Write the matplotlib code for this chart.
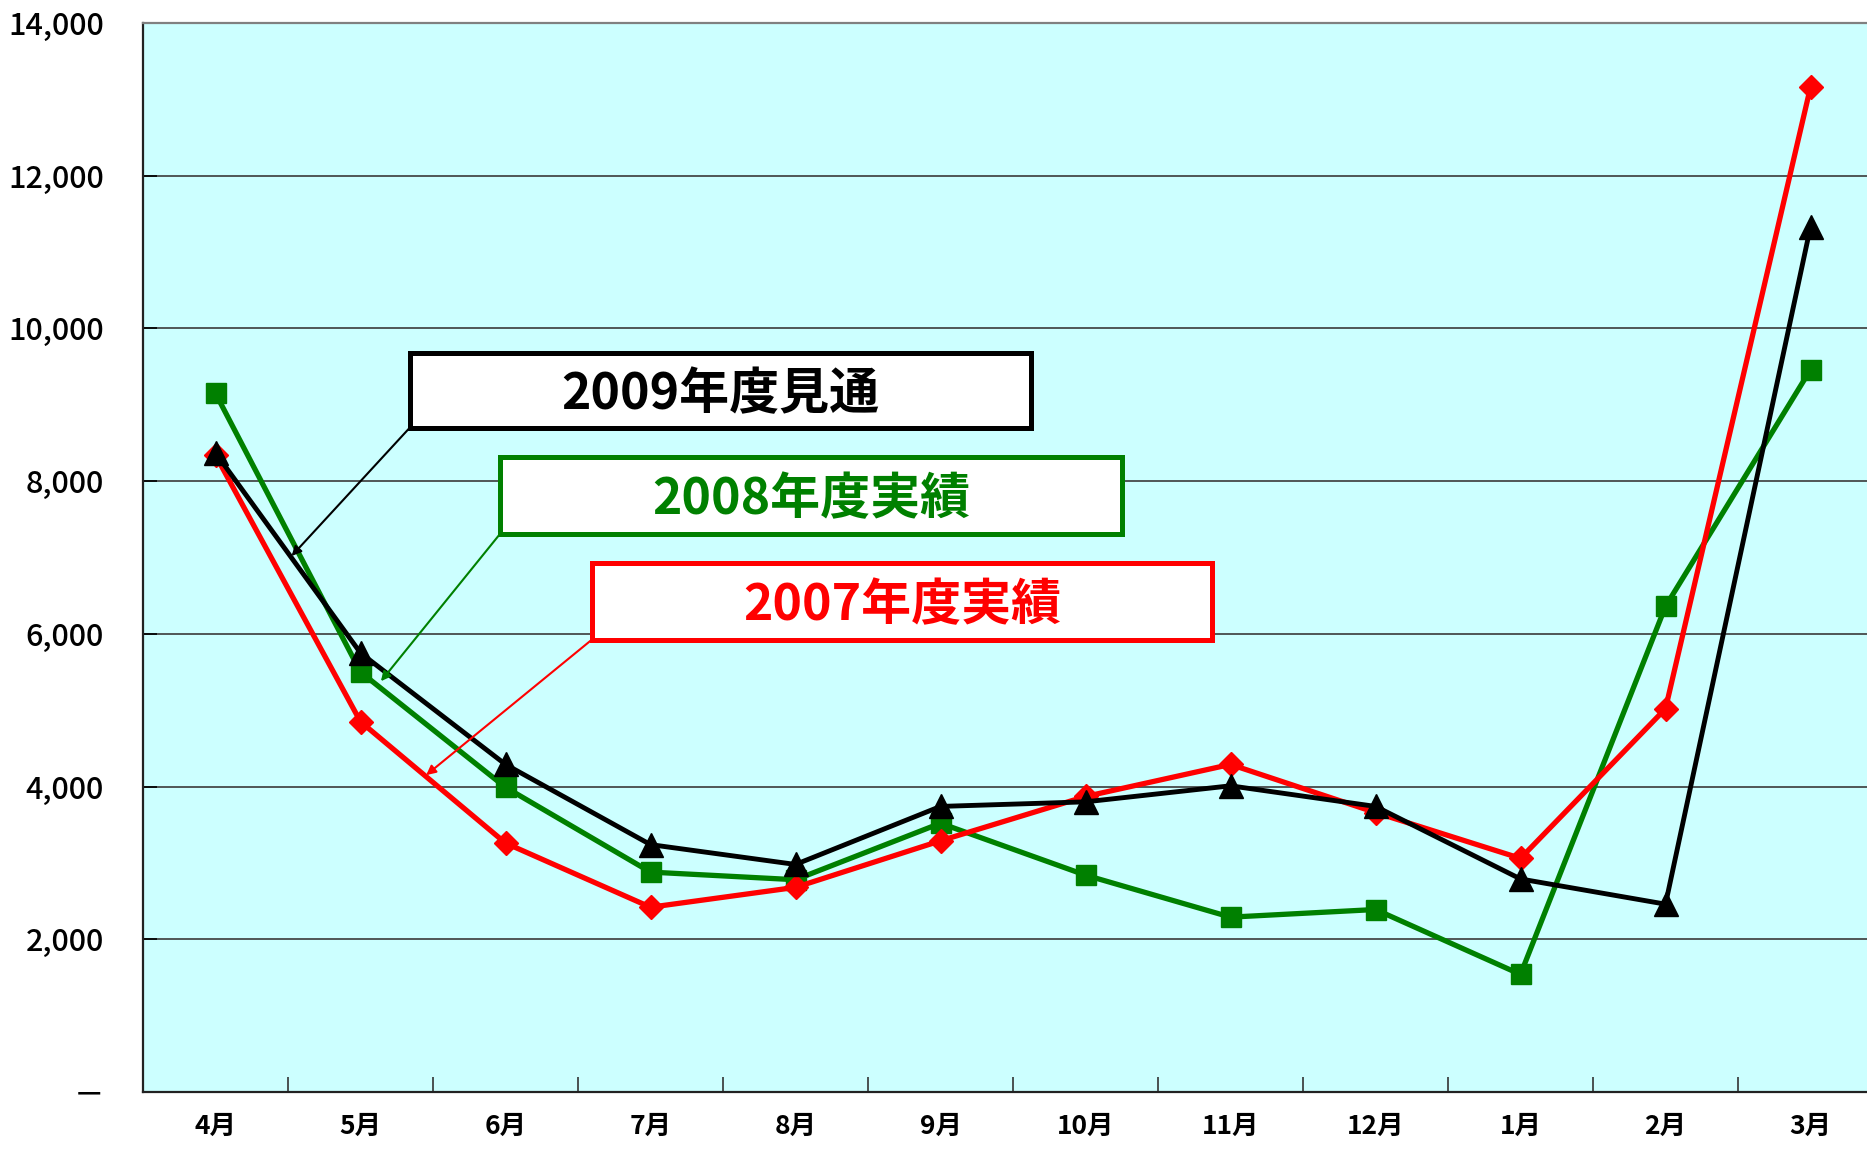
import matplotlib
matplotlib.use("Agg")
import matplotlib.pyplot as plt
from matplotlib.patches import Rectangle

# === DATA ===
months = ["4月", "5月", "6月", "7月", "8月", "9月", "10月", "11月", "12月", "1月", "2月", "3月"]
fy2007 = [8340, 4850, 3260, 2420, 2680, 3290, 3870, 4290, 3660, 3060, 5020, 13160]
fy2008 = [9150, 5500, 3990, 2880, 2780, 3520, 2840, 2290, 2390, 1540, 6360, 9460]
fy2009 = [8370, 5750, 4290, 3240, 2980, 3740, 3800, 4010, 3740, 2790, 2460, 11330]
y_ticks = [0, 2000, 4000, 6000, 8000, 10000, 12000, 14000]
y_tick_labels = ["－", "2,000", "4,000", "6,000", "8,000", "10,000", "12,000", "14,000"]

label_2009 = "2009年度見通"
label_2008 = "2008年度実績"
label_2007 = "2007年度実績"

# === COLOURS ===
BG = "#CCFFFF"
RED = "#FF0000"
GREEN = "#008000"
BLACK = "#000000"

plt.rcParams['font.family'] = ['Noto Sans CJK JP', 'DejaVu Sans']

fig = plt.figure(figsize=(18.67, 11.52), dpi=100)
# axes runs slightly past the right edge, like the original
ax = fig.add_axes([143 / 1867, 1 - 1092 / 1152, 1740 / 1867, 1069 / 1152])
ax.set_facecolor(BG)

x = list(range(len(months)))

ax.plot(x, fy2008, color=GREEN, lw=3.8, marker="s", ms=15, zorder=3)
ax.plot(x, fy2007, color=RED, lw=3.8, marker="D", ms=12.5, zorder=4)
ax.plot(x, fy2009, color=BLACK, lw=3.5, marker="^", ms=17, zorder=5)

ax.set_xlim(-0.5, len(months) - 0.5)
ax.set_ylim(0, 14000)

ax.set_yticks(y_ticks)
ax.set_yticklabels(y_tick_labels, fontsize=22, fontweight="medium")
ax.yaxis.grid(True, color="#3a3a3a", lw=1.2)
ax.set_axisbelow(True)

ax.set_xticks(x)
ax.set_xticklabels(months, fontsize=19, fontweight="bold")
ax.set_xticks([i + 0.5 for i in x[:-1]], minor=True)
ax.tick_params(axis="x", which="major", length=0, pad=15)
ax.tick_params(axis="x", which="minor", direction="in", length=11, width=1.2, color="#333333")
ax.tick_params(axis="y", direction="in", length=10, width=1.2, pad=28)

for s in ["left", "bottom"]:
    ax.spines[s].set_color("#222222")
    ax.spines[s].set_linewidth(1.6)
ax.spines["top"].set_color("#808080")
ax.spines["top"].set_linewidth(1.6)
ax.spines["right"].set_visible(False)

# === LABEL BOXES WITH LEADERS ===
boxes = [
    # text, colour, box (x0, y0, w, h) in axes fraction, leader target (x idx, value)
    (label_2009, BLACK, (0.1533, 0.6214, 0.3573, 0.0702), (0.525, 7020)),
    (label_2008, GREEN, (0.2053, 0.5223, 0.3573, 0.0713), (1.141, 5380)),
    (label_2007, RED, (0.2580, 0.4232, 0.3566, 0.0713), (1.453, 4150)),
]
for txt, col, (bx, by, bw, bh), (tx, ty) in boxes:
    ax.add_patch(Rectangle((bx, by), bw, bh, transform=ax.transAxes,
                           facecolor="white", edgecolor=col, lw=3.6, zorder=6))
    ax.text(bx + bw / 2, by + bh / 2 - 0.004, txt, transform=ax.transAxes, color=col,
            fontsize=36, fontweight="bold", ha="center", va="center", zorder=7)
    ax.annotate("", xy=(tx, ty), xycoords="data",
                xytext=(bx, by), textcoords="axes fraction",
                arrowprops=dict(arrowstyle="-|>", color=col, lw=1.5,
                                mutation_scale=14, shrinkA=0, shrinkB=0),
                zorder=6)

fig.savefig("out.png", dpi=100)
